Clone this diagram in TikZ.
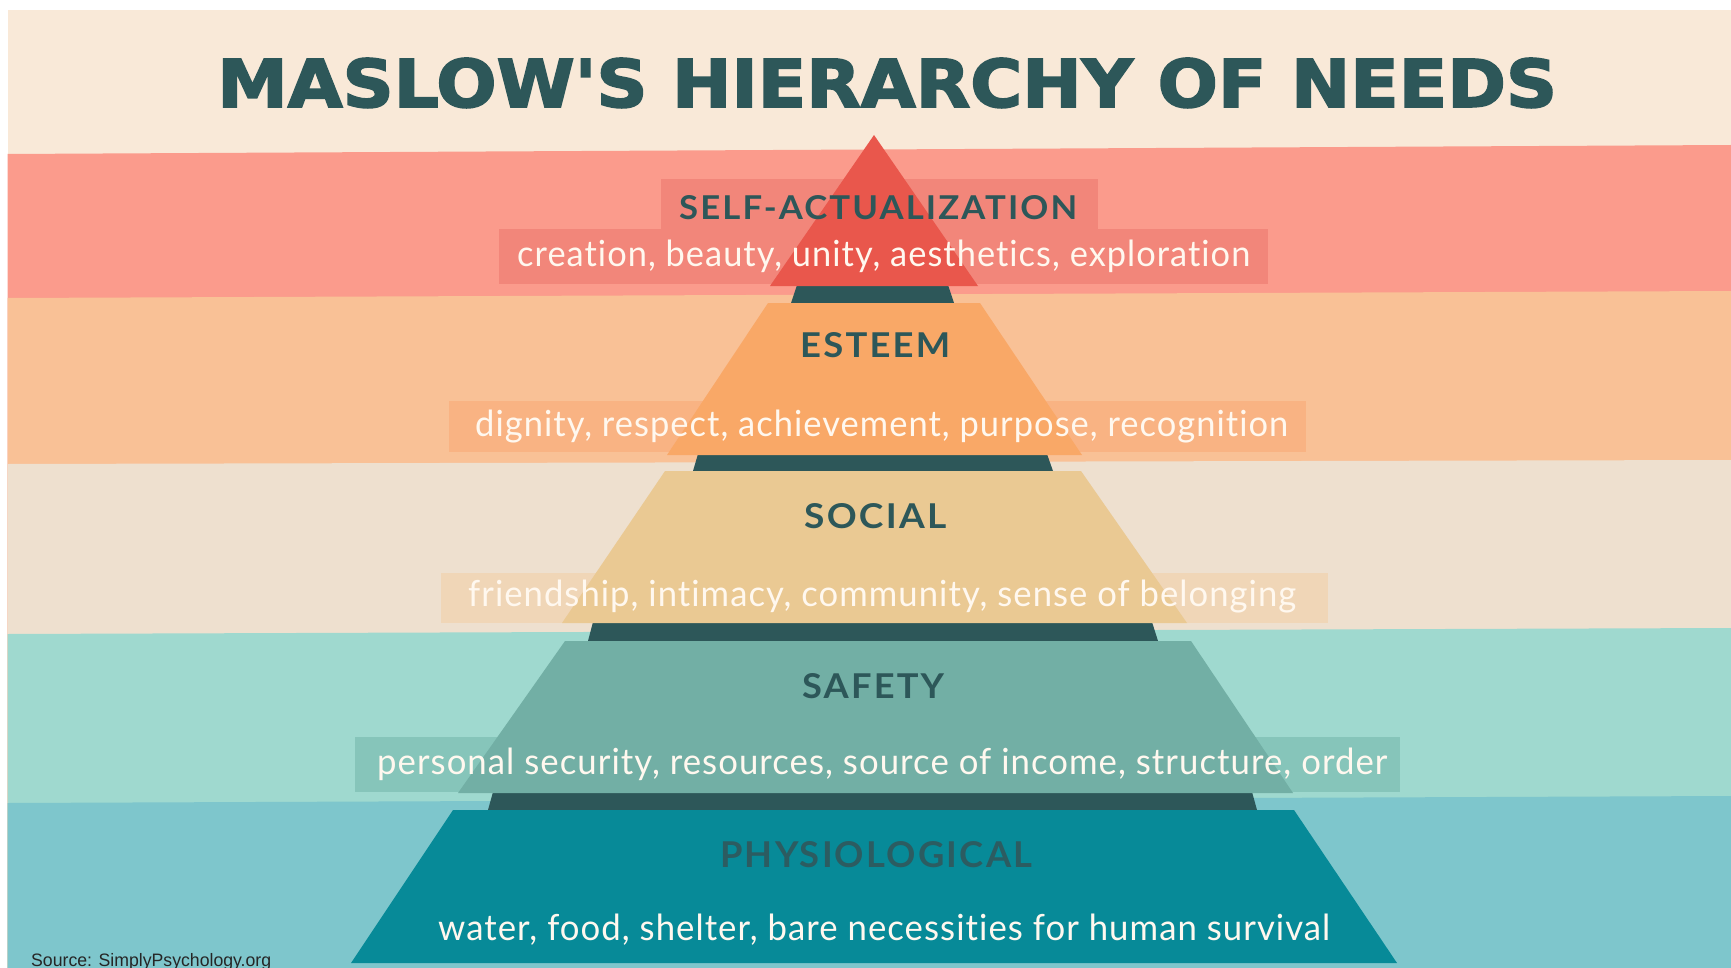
\documentclass[tikz,border=0pt]{standalone}
\usepackage{fontspec}
\usepackage{graphicx}
\newfontfamily\titlefont{DejaVu Sans}[BoldFeatures={FakeBold=2.5}]
\newfontfamily\bodyfont{Lato}[LetterSpace=3,Ligatures={NoCommon,NoRare}]
\newfontfamily\labelfont{Lato}[LetterSpace=6,Ligatures={NoCommon,NoRare}]
\newfontfamily\srcfont{Liberation Sans}
\definecolor{cream}{HTML}{F9E9D8}
\definecolor{salmon}{HTML}{FB9B8C}
\definecolor{peach}{HTML}{F9C196}
\definecolor{beige}{HTML}{EEE0CF}
\definecolor{mint}{HTML}{9FD9CF}
\definecolor{sky}{HTML}{7EC6CC}
\definecolor{darkteal}{HTML}{2D5759}
\definecolor{tri}{HTML}{E9574C}
\definecolor{est}{HTML}{F9A867}
\definecolor{soc}{HTML}{EAC993}
\definecolor{saf}{HTML}{72AFA5}
\definecolor{phy}{HTML}{078A98}
\definecolor{sabox}{HTML}{F2867A}
\definecolor{esbox}{HTML}{F9B383}
\definecolor{sobox}{HTML}{F0D6B7}
\definecolor{safbox}{HTML}{86C5BA}
\definecolor{bodytext}{HTML}{FFF8EF}
\definecolor{physlabel}{HTML}{2C5C61}
\newcommand{\caplabel}[3]{\resizebox{#1}{#2}{\labelfont\bfseries\fontsize{30}{30}\selectfont #3}}
\newcommand{\bodyline}[2]{\resizebox{#1}{\height}{\bodyfont\fontsize{36}{36}\selectfont #2}}
\begin{document}
\begin{tikzpicture}[x=1pt,y=-1pt,
  lvlname/.style={anchor=base west,inner sep=0pt,text=darkteal},
  lvltext/.style={anchor=base west,inner sep=0pt,text=bodytext}]
\useasboundingbox (0,0) rectangle (1731,968);
\fill[white] (0,0) rectangle (1731,968);
% background bands
\fill[cream]  (7.5,10.5) rectangle (1731,968);
\fill[salmon] (7.5,154) -- (1731,145) -- (1731,968) -- (7.5,968) -- cycle;
\fill[peach]  (7.5,298) -- (1731,291) -- (1731,968) -- (7.5,968) -- cycle;
\fill[beige]  (7.5,464) -- (1731,460) -- (1731,968) -- (7.5,968) -- cycle;
\fill[mint]   (7.5,634) -- (1731,628) -- (1731,968) -- (7.5,968) -- cycle;
\fill[sky]    (7.5,803) -- (1731,796) -- (1731,968) -- (7.5,968) -- cycle;
% label boxes
\fill[sabox] (661,179) rectangle (1098,229);
\fill[sabox] (499,229) rectangle (1268,284);
\fill[esbox] (449,401) rectangle (1306,452);
\fill[sobox] (441,573) rectangle (1328,623);
\fill[safbox] (355,737) rectangle (1400,792);
% dark strips
\fill[darkteal] (797,285) -- (948,285) -- (954,303) -- (791,303) -- cycle;
\fill[darkteal] (698,454) -- (1047,454) -- (1053,471) -- (693,471) -- cycle;
\fill[darkteal] (593,622) -- (1152,622) -- (1158,641) -- (588,641) -- cycle;
\fill[darkteal] (493,792) -- (1252,792) -- (1257,810) -- (488,810) -- cycle;
% levels
\fill[tri] (874,135) -- (978,286) -- (770,286) -- cycle;
\fill[est] (768,303) -- (980,303) -- (1082,455) -- (667,455) -- cycle;
\fill[soc] (665,471) -- (1081,471) -- (1187,623) -- (562,623) -- cycle;
\fill[saf] (565,641) -- (1191,641) -- (1293,793) -- (458,793) -- cycle;
\fill[phy] (453,810) -- (1294,810) -- (1397,963) -- (351,963) -- cycle;
% title
\node[anchor=base west,inner sep=0pt,text=darkteal] (title) at (217,107)
  {\resizebox{1340pt}{49pt}{\titlefont\bfseries\fontsize{60}{60}\selectfont MASLOW'S HIERARCHY OF NEEDS}};
% level names
\node[lvlname] (sa) at (679,220) {\caplabel{398pt}{24pt}{SELF-ACTUALIZATION}};
\node[lvlname] (es) at (800,357) {\caplabel{150pt}{25pt}{ESTEEM}};
\node[lvlname] (so) at (804,528) {\caplabel{142pt}{25pt}{SOCIAL}};
\node[lvlname] (sf) at (802,698) {\caplabel{142pt}{25pt}{SAFETY}};
\node[lvlname,text=physlabel] (ph) at (720,867) {\caplabel{312pt}{26pt}{PHYSIOLOGICAL}};
% level texts
\node[lvltext] (sat) at (517,267) {\bodyline{733pt}{creation, beauty, unity, aesthetics, exploration}};
\node[lvltext] (est) at (475,436) {\bodyline{813pt}{dignity, respect, achievement, purpose, recognition}};
\node[lvltext] (sot) at (468,606) {\bodyline{828pt}{friendship, intimacy, community, sense of belonging}};
\node[lvltext] (sft) at (377,774) {\bodyline{1010pt}{personal security, resources, source of income, structure, order}};
\node[lvltext] (pht) at (438,940) {\bodyline{892pt}{water, food, shelter, bare necessities for human survival}};
% source
\node[anchor=base west,inner sep=0pt,text=black!85] (src) at (31,966)
  {\resizebox{240pt}{\height}{\srcfont\fontsize{18}{18}\selectfont Source: SimplyPsychology.org}};
\end{tikzpicture}
\end{document}
